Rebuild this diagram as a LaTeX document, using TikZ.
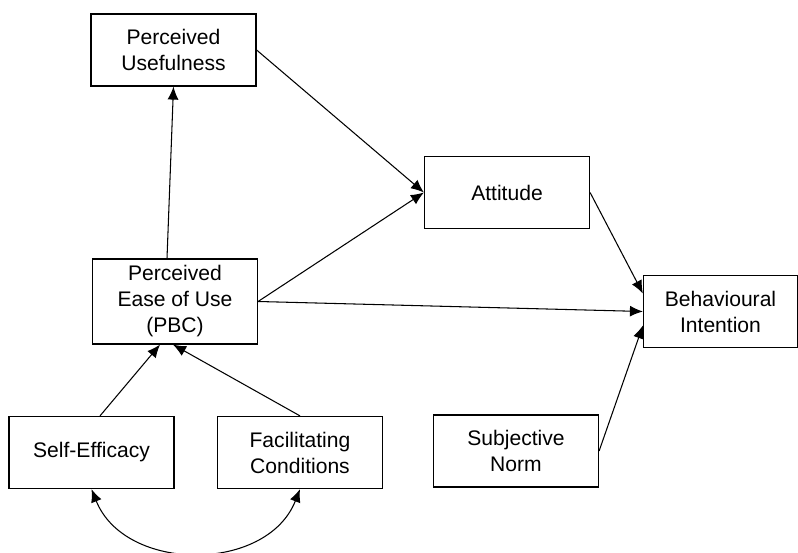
\documentclass[tikz,border=0pt]{standalone}
\usepackage{fontspec}
\setmainfont{Liberation Sans}
\usetikzlibrary{arrows.meta}

\tikzset{
  box/.style={draw,line width=0.7pt,minimum width=3.3cm,minimum height=1.44cm,
    align=center,inner sep=2pt,font=\fontsize{12}{14.8}\selectfont},
  arr/.style={->,line width=0.6pt}
}

\begin{document}
\begin{tikzpicture}[x=0.02cm,y=-0.02cm,>={Latex[length=2.6mm,width=2.2mm]}]
   \useasboundingbox (0,0) rectangle (798,553);
   \node[box] (pu) at (173.5,50) {Perceived\\Usefulness};
   \node[box] (att) at (507,192.5) {Attitude};
   \node[box,minimum height=1.7cm] (peou) at (175,301.5) {Perceived\\Ease of Use\\(PBC)};
   \node[box,minimum width=3.08cm] (bi) at (720.5,311.5) {Behavioural\\Intention};
   \node[box] (se) at (91.5,452.5) {Self-Efficacy};
   \node[box] (fc) at (300,452.5) {Facilitating\\Conditions};
   \node[box] (sn) at (516,451) {Subjective\\Norm};
   \draw[arr] ([xshift=-0.16cm]peou.north) -- (pu.south);
   \draw[arr] (pu.east) -- (att.west);
   \draw[arr] (peou.east) -- (att.west);
   \draw[arr] (peou.east) -- (bi.west);
   \draw[arr] (att.east) -- ([yshift=0.36cm]bi.west);
   \draw[arr] (sn.east) -- ([yshift=-0.28cm]bi.west);
   \draw[arr] ([xshift=0.17cm]se.north) -- ([xshift=-0.3cm]peou.south);
   \draw[arr] (fc.north) -- ([xshift=-0.04cm]peou.south);
   \draw[<->,line width=0.6pt] (se.south) .. controls (125,573) and (267,573) .. (fc.south);
\end{tikzpicture}
\end{document}
